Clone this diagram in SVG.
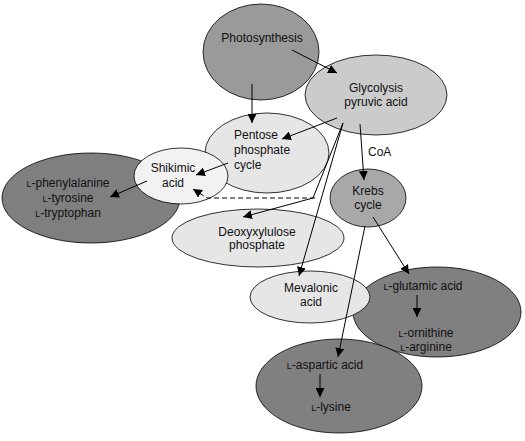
<svg xmlns="http://www.w3.org/2000/svg" width="525" height="441" viewBox="0 0 525 441">
<style>
.n{stroke:#000;stroke-width:0.8}
text{font-family:"Liberation Sans",Arial,sans-serif;font-size:12px;fill:#111}
.c{text-anchor:middle}
.sc{font-size:9px}
.e{stroke:#000;stroke-width:1;fill:none}
.d{stroke-dasharray:5,3}
</style>
<defs>
<marker id="a" viewBox="0 0 10 10" refX="10" refY="5" markerWidth="9" markerHeight="9" markerUnits="userSpaceOnUse" orient="auto"><path d="M0,0 L10,5 L0,10 z" fill="#000"/></marker>
</defs>
<rect width="525" height="441" fill="#fff"/>
<g id="photosynthesis"><ellipse class="n" cx="261" cy="52" rx="58" ry="48" fill="#9a9a9a"/><text class="c" x="262" y="42">Photosynthesis</text></g>
<g id="glycolysis"><ellipse class="n" cx="376" cy="95" rx="71" ry="40" fill="#cbcbcb"/><text class="c" x="376" y="92">Glycolysis</text><text class="c" x="376" y="106">pyruvic acid</text></g>
<g id="pentose"><ellipse class="n" cx="267" cy="153" rx="62" ry="40" fill="#e6e6e6"/><text x="234" y="139">Pentose</text><text x="234" y="154">phosphate</text><text x="234" y="169">cycle</text></g>
<g id="phenylalanine"><ellipse class="n" cx="91" cy="198" rx="89" ry="45" fill="#7f7f7f"/><text class="c" x="68" y="187"><tspan class="sc">L</tspan>-phenylalanine</text><text class="c" x="68" y="202"><tspan class="sc">L</tspan>-tyrosine</text><text class="c" x="68" y="217"><tspan class="sc">L</tspan>-tryptophan</text></g>
<g id="shikimic"><ellipse class="n" cx="181" cy="176" rx="47" ry="28" fill="#f2f2f2"/><text class="c" x="173" y="172">Shikimic</text><text class="c" x="173" y="187">acid</text></g>
<g id="krebs"><ellipse class="n" cx="368" cy="198" rx="38" ry="29" fill="#a8a8a8"/><text class="c" x="368" y="195">Krebs</text><text class="c" x="368" y="209">cycle</text></g>
<g id="deoxyxylulose"><ellipse class="n" cx="258" cy="238" rx="86" ry="29" fill="#e6e6e6"/><text class="c" x="257" y="236">Deoxyxylulose</text><text class="c" x="257" y="249">phosphate</text></g>
<g id="glutamic"><ellipse class="n" cx="437" cy="312" rx="84" ry="45" fill="#808080"/><text class="c" x="423" y="290"><tspan class="sc">L</tspan>-glutamic acid</text><text class="c" x="426" y="337"><tspan class="sc">L</tspan>-ornithine</text><text class="c" x="426" y="351"><tspan class="sc">L</tspan>-arginine</text></g>
<g id="mevalonic"><ellipse class="n" cx="310" cy="297" rx="60" ry="26" fill="#e6e6e6"/><text class="c" x="311" y="292">Mevalonic</text><text class="c" x="311" y="306">acid</text></g>
<g id="aspartic"><ellipse class="n" cx="339" cy="386" rx="83" ry="47" fill="#808080"/><text class="c" x="325" y="369"><tspan class="sc">L</tspan>-aspartic acid</text><text class="c" x="331" y="411"><tspan class="sc">L</tspan>-lysine</text></g>
<g id="connectors">
<line class="e" x1="292" y1="50" x2="337" y2="73" marker-end="url(#a)"/>
<line class="e" x1="252" y1="84" x2="252" y2="123" marker-end="url(#a)"/>
<line class="e" x1="337" y1="118" x2="282" y2="139" marker-end="url(#a)"/>
<line class="e" x1="228" y1="163" x2="196" y2="175" marker-end="url(#a)"/>
<line class="e" x1="360" y1="124" x2="364" y2="180" marker-end="url(#a)"/>
<text x="368" y="156">CoA</text>
<line class="e" x1="343" y1="123" x2="313" y2="198"/>
<line class="e" x1="343" y1="123" x2="299" y2="276" marker-end="url(#a)"/>
<line class="e" x1="313" y1="198" x2="243" y2="217" marker-end="url(#a)"/>
<polyline class="e d" points="315,198 207,198 193,189" marker-end="url(#a)"/>
<line class="e" x1="147" y1="181" x2="110" y2="197" marker-end="url(#a)"/>
<line class="e" x1="373" y1="217" x2="409" y2="274" marker-end="url(#a)"/>
<line class="e" x1="365" y1="226" x2="338" y2="357" marker-end="url(#a)"/>
<line class="e" x1="417" y1="295" x2="417" y2="317" marker-end="url(#a)"/>
<line class="e" x1="320" y1="374" x2="320" y2="397" marker-end="url(#a)"/>
</g>
</svg>
